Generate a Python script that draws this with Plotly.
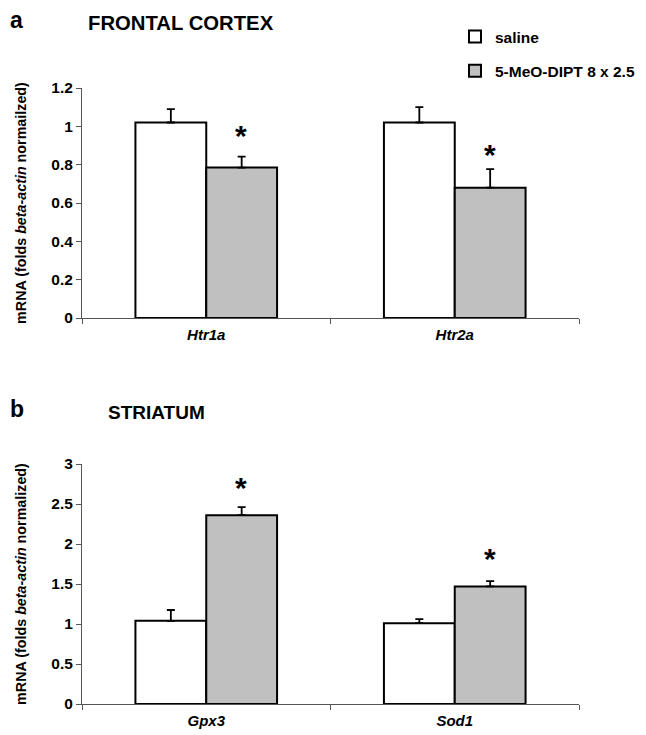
import plotly.graph_objects as go

# ---- data ----
genes_a = ["Htr1a", "Htr2a"]
saline_a = [1.02, 1.02]
saline_a_err = [0.07, 0.08]
dipt_a = [0.785, 0.68]
dipt_a_err = [0.057, 0.097]
star_a = [0.97, 0.87]

genes_b = ["Gpx3", "Sod1"]
saline_b = [1.04, 1.01]
saline_b_err = [0.135, 0.05]
dipt_b = [2.36, 1.47]
dipt_b_err = [0.10, 0.065]
star_b = [2.74, 1.86]

series_names = ["saline", "5-MeO-DIPT 8 x 2.5"]
ticks_a = [0, 0.2, 0.4, 0.6, 0.8, 1, 1.2]
ticks_b = [0, 0.5, 1, 1.5, 2, 2.5, 3]

FONT = "Liberation Sans, Arial, sans-serif"
W, H = 646, 735
OFF = 8  # page body margin

fig = go.Figure()

def px_x(v):
    return (v - OFF) / W

def px_y(v):
    return 1 - (v - OFF) / H

def add_panel(genes, sal, sal_err, trt, trt_err, xa, ya, show):
    fig.add_trace(go.Bar(
        x=genes, y=sal, name=f"<b>{series_names[0]}</b>", legendgroup="g0", showlegend=show,
        marker=dict(color="white", line=dict(color="black", width=2)),
        error_y=dict(type="data", array=sal_err, arrayminus=[0] * len(sal_err), symmetric=False,
                     color="black", thickness=1.8, width=4),
        xaxis=xa, yaxis=ya))
    fig.add_trace(go.Bar(
        x=genes, y=trt, name=f"<b>{series_names[1]}</b>", legendgroup="g1", showlegend=show,
        marker=dict(color="#c0c0c0", line=dict(color="black", width=2)),
        error_y=dict(type="data", array=trt_err, arrayminus=[0] * len(trt_err), symmetric=False,
                     color="black", thickness=1.8, width=4),
        xaxis=xa, yaxis=ya))

add_panel(genes_a, saline_a, saline_a_err, dipt_a, dipt_a_err, "x", "y", True)
add_panel(genes_b, saline_b, saline_b_err, dipt_b, dipt_b_err, "x2", "y2", False)

xdom = [px_x(82), px_x(579)]
axis_x = dict(
    type="category", showline=True, linecolor="#555", linewidth=1,
    ticks="outside", tickson="boundaries", ticklen=5, tickcolor="#555",
    showgrid=False, zeroline=False, domain=xdom, automargin=False,
    tickfont=dict(family=FONT, size=15, color="black"), ticklabelstandoff=3,
)
fig.update_layout(
    xaxis=dict(axis_x, anchor="y", tickvals=genes_a,
               ticktext=[f"<b><i>{g}</i></b>" for g in genes_a]),
    xaxis2=dict(axis_x, anchor="y2", tickvals=genes_b,
                ticktext=[f"<b><i>{g}</i></b>" for g in genes_b]),
)

axis_y = dict(
    showline=True, linecolor="#555", linewidth=1, ticks="outside", ticklen=5,
    tickcolor="#555", showgrid=False, zeroline=False, automargin=False,
    tickfont=dict(family=FONT, size=15.5, color="black"),
    title_font=dict(family=FONT, size=14.3, color="black"),
    title_standoff=21,
)
fig.update_layout(
    yaxis=dict(axis_y, anchor="x", range=[0, 1.2], tickvals=ticks_a,
               ticktext=[f"<b>{t:g}</b>" for t in ticks_a],
               domain=[px_y(318), px_y(88)],
               title_text="<b>mRNA (folds <i>beta-actin</i> normailzed)</b>"),
    yaxis2=dict(axis_y, anchor="x2", range=[0, 3], tickvals=ticks_b,
                ticktext=[f"<b>{t:g}</b>" for t in ticks_b],
                domain=[px_y(704), px_y(464)],
                title_text="<b>mRNA (folds <i>beta-actin</i> normalized)</b>"),
)

# significance asterisks above treated bars
for g, s in zip(genes_a, star_a):
    fig.add_annotation(x=g, y=s, xref="x", yref="y", text="<b>*</b>", showarrow=False,
                       xshift=35, yshift=-3, font=dict(family=FONT, size=30, color="black"))
for g, s in zip(genes_b, star_b):
    fig.add_annotation(x=g, y=s, xref="x2", yref="y2", text="<b>*</b>", showarrow=False,
                       xshift=35, yshift=-3, font=dict(family=FONT, size=30, color="black"))

# panel labels and titles
fig.add_annotation(x=px_x(8), y=px_y(20), xref="paper", yref="paper", text="<b>a</b>",
                   showarrow=False, xanchor="left", yanchor="middle",
                   font=dict(family=FONT, size=23, color="black"))
fig.add_annotation(x=px_x(86), y=px_y(23), xref="paper", yref="paper", text="<b>FRONTAL CORTEX</b>",
                   showarrow=False, xanchor="left", yanchor="middle",
                   font=dict(family=FONT, size=20.3, color="black"))
fig.add_annotation(x=px_x(8), y=px_y(409), xref="paper", yref="paper", text="<b>b</b>",
                   showarrow=False, xanchor="left", yanchor="middle",
                   font=dict(family=FONT, size=23, color="black"))
fig.add_annotation(x=px_x(106), y=px_y(413), xref="paper", yref="paper", text="<b>STRIATUM</b>",
                   showarrow=False, xanchor="left", yanchor="middle",
                   font=dict(family=FONT, size=19, color="black"))

fig.update_layout(
    width=W, height=H,
    margin=dict(l=0, r=0, t=0, b=0, autoexpand=False),
    paper_bgcolor="white", plot_bgcolor="white",
    barmode="group", bargap=0.43, bargroupgap=0,
    font=dict(family=FONT, color="black"),
    legend=dict(x=px_x(455), y=px_y(20), xanchor="left", yanchor="top",
                font=dict(family=FONT, size=15.5, color="black"),
                tracegroupgap=11, itemwidth=30, bgcolor="rgba(0,0,0,0)",
                traceorder="grouped"),
)

fig.write_html("out.html")
